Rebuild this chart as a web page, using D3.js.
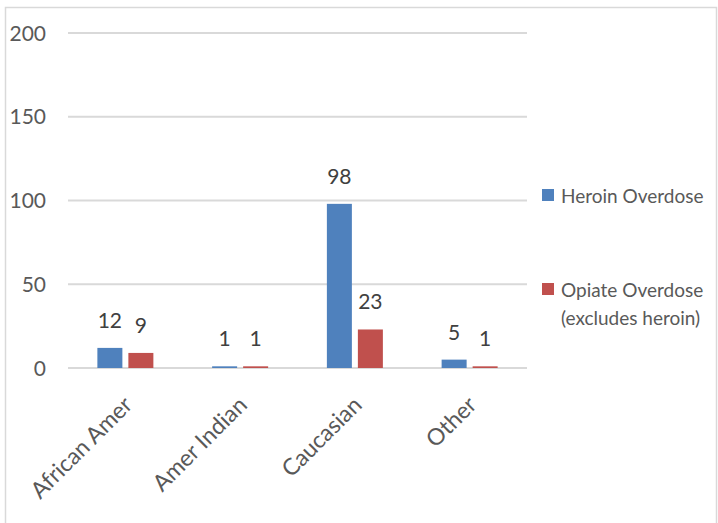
<!DOCTYPE html>
<html>
<head>
<meta charset="utf-8">
<script src="https://cdn.jsdelivr.net/npm/d3@7"></script>
<style>
  html, body { margin: 0; padding: 0; background: #fff; }
  svg text { font-family: Lato, "Open Sans", sans-serif; }
</style>
</head>
<body>
<svg id="chart" width="718" height="523"></svg>
<script>
const categories = ["African Amer", "Amer Indian", "Caucasian", "Other"];
const seriesNames = ["Heroin Overdose", "Opiate Overdose (excludes heroin)"];
const heroin = [12, 1, 98, 5];
const opiate = [9, 1, 23, 1];
const yTicks = [0, 50, 100, 150, 200];
const legendLines = [["Heroin Overdose"], ["Opiate Overdose", "(excludes heroin)"]];
const colors = ["#4f81bd", "#c0504d"];

const svg = d3.select("#chart");

// outer border
svg.append("rect").attr("x", 5.5).attr("y", 7.5).attr("width", 711).attr("height", 530)
  .attr("fill", "none").attr("stroke", "#d9d9d9").attr("stroke-width", 1.5);

const plot = { left: 68, right: 527, top: 33, bottom: 368 };
const x = d3.scaleBand().domain(categories).range([plot.left, plot.right]).paddingInner(0).paddingOuter(0);
const y = d3.scaleLinear().domain([0, 200]).range([plot.bottom, plot.top]);

// gridlines
svg.append("g").selectAll("line").data(yTicks).join("line")
  .attr("x1", plot.left).attr("x2", plot.right)
  .attr("y1", d => y(d)).attr("y2", d => y(d))
  .attr("stroke", "#d9d9d9").attr("stroke-width", 2);

// y tick labels
svg.append("g").selectAll("text").data(yTicks).join("text")
  .attr("x", 46).attr("y", d => y(d))
  .attr("dy", "0.36em")
  .attr("text-anchor", "end")
  .attr("fill", "#595959").attr("font-size", 21)
  .text(d => d);

const barW = 25, gap = 6;
const data = categories.map((c, i) => ({ c, vals: [heroin[i], opiate[i]] }));
const g = svg.append("g");
data.forEach(d => {
  const cx = x(d.c) + x.bandwidth() / 2;
  d.vals.forEach((v, j) => {
    const bx = j === 0 ? cx - gap / 2 - barW : cx + gap / 2;
    g.append("rect")
      .attr("x", bx).attr("y", y(v))
      .attr("width", barW).attr("height", y(0) - y(v))
      .attr("fill", colors[j]);
    g.append("text")
      .attr("x", bx + barW / 2).attr("y", y(v) - 20)
      .attr("text-anchor", "middle")
      .attr("fill", "#404040").attr("font-size", 21)
      .text(v);
  });
});

// x labels
svg.append("g").selectAll("text").data(categories).join("text")
  .attr("transform", d => `translate(${x(d) + x.bandwidth() / 2 - 3},${395}) rotate(-45)`)
  .attr("text-anchor", "end")
  .attr("dy", "0.7em")
  .attr("fill", "#595959").attr("font-size", 23)
  .text(d => d);

// legend
const legendY = [189, 283];
legendLines.forEach((lines, i) => {
  svg.append("rect").attr("x", 542).attr("y", legendY[i]).attr("width", 12).attr("height", 12)
    .attr("fill", colors[i]);
  lines.forEach((t, k) => {
    svg.append("text").attr("x", 561).attr("y", legendY[i] + 14 + k * 28)
      .attr("fill", "#595959").attr("font-size", 19)
      .text(t);
  });
});
</script>
</body>
</html>
